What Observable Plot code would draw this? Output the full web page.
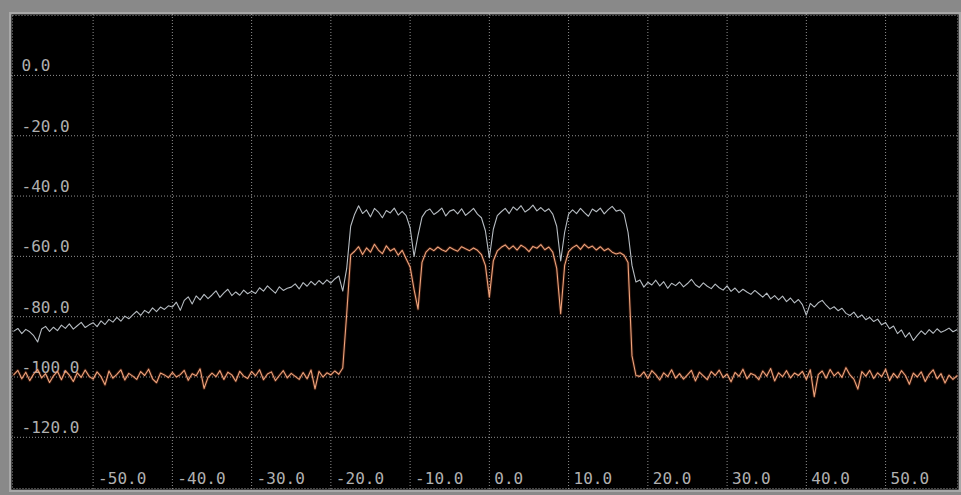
<!DOCTYPE html>
<html>
<head>
<meta charset="utf-8">
<script src="https://cdn.jsdelivr.net/npm/d3@7"></script>
<script src="https://cdn.jsdelivr.net/npm/@observablehq/plot@0.6"></script>
<style>
  html, body { margin: 0; padding: 0; background: #898989; }
  #chart svg { display: block; }
</style>
</head>
<body>
<div id="chart"></div>
<script>
// Frequency grid (MHz offset), one sample every 0.5
const freqStart = -60;
const freqEnd = 59;
const freqStep = 0.5;

// Tick positions and labels
const xTicks = [-50, -40, -30, -20, -10, 0, 10, 20, 30, 40, 50];
const xTickLabels = ["-50.0", "-40.0", "-30.0", "-20.0", "-10.0", "0.0", "10.0", "20.0", "30.0", "40.0", "50.0"];
const yTicks = [0, -20, -40, -60, -80, -100, -120];
const yTickLabels = ["0.0", "-20.0", "-40.0", "-60.0", "-80.0", "-100.0", "-120.0"];

// Max-hold trace (light grey), dB
const traceMax = [
  -84.8, -83.9, -85.6, -84.2, -85.0, -86.3, -88.4, -84.1, -83.2, -84.9,
  -83.5, -84.6, -82.8, -83.9, -82.4, -84.1, -83.0, -81.9, -83.6, -82.7,
  -82.0, -83.3, -81.4, -82.6, -80.9, -81.8, -80.2, -81.5, -79.8, -80.7,
  -79.4, -78.2, -79.6, -77.9, -78.8, -77.1, -78.3, -76.8, -77.6, -76.4,
  -76.8, -75.2, -77.9, -74.6, -73.4, -75.8, -73.1, -74.4, -72.6, -74.0,
  -72.8, -71.4, -73.6, -72.1, -70.9, -73.0, -71.8, -72.9, -71.2, -72.4,
  -71.6, -72.3, -70.4, -71.5, -69.8, -71.0, -72.2, -70.1, -71.3, -70.6,
  -70.2, -69.1, -70.8, -68.7, -69.9, -68.3, -69.5, -68.0, -69.2, -67.8,
  -68.9, -67.5, -66.5, -71.5, -64.0, -50.0, -46.0, -43.2, -45.8, -44.6,
  -46.9, -44.1, -45.3, -47.2, -44.8, -45.6, -44.0, -46.3, -45.1, -46.5,
  -50.5, -60.0, -53.0, -47.0, -45.0, -44.3, -46.1, -45.2, -44.0, -46.6,
  -45.0, -44.5, -45.9, -44.2, -46.4, -45.3, -44.1, -46.0, -47.2, -51.5,
  -60.5, -51.0, -46.5, -45.2, -44.1, -45.8, -43.6, -44.7, -43.2, -45.3,
  -44.4, -43.0, -44.9, -43.8, -45.1, -44.2, -46.0, -50.0, -61.5, -52.0,
  -46.0, -44.6, -45.8, -44.1, -45.5, -46.7, -44.3, -45.2, -44.0, -45.9,
  -44.5, -43.4, -45.0, -44.6, -46.0, -52.0, -63.0, -68.5, -67.8, -70.2,
  -68.6, -69.5, -67.9, -69.8, -68.4, -70.6, -68.9, -69.7, -68.5, -70.1,
  -69.0, -67.6, -69.4, -70.3, -68.8, -69.9, -70.7, -69.2, -70.4, -71.2,
  -69.8, -71.6, -70.5, -72.0, -70.9, -71.8, -72.6, -71.3, -72.4, -73.5,
  -72.2, -74.1, -73.0, -74.4, -73.2, -75.0, -73.8, -75.4, -74.3, -76.0,
  -79.5, -75.6, -76.8, -75.4, -74.6, -76.2, -77.5, -76.7, -78.0, -77.2,
  -78.9, -79.6, -78.5, -80.3, -79.4, -81.0, -80.2, -81.6, -80.8, -82.7,
  -81.9, -84.0, -83.1, -85.6, -84.4, -86.8, -85.3, -87.9, -86.2, -84.7,
  -85.9, -84.3, -85.5, -84.0, -85.2, -84.6, -83.8, -85.0, -84.3
];

// Live trace (orange), dB
const traceLive = [
  -99.2, -97.8, -100.6, -98.4, -101.2, -99.0, -97.5, -100.3, -98.9, -101.8,
  -99.6, -98.1, -100.9, -97.9, -99.4, -101.5, -98.6, -100.1, -97.7, -99.8,
  -100.7, -98.3, -99.9, -102.6, -98.0, -100.4, -99.1, -97.6, -101.0, -98.8,
  -99.7, -100.8, -98.2, -99.5, -97.4, -100.6, -101.9, -98.7, -99.3, -100.2,
  -98.5, -100.0, -99.2, -97.8, -101.1, -98.9, -99.6, -97.3, -103.8, -100.1,
  -98.7, -99.9, -97.9, -100.8, -98.4, -99.3, -101.4, -98.1, -99.7, -100.5,
  -98.2, -99.6, -97.6, -100.9, -99.0, -98.3, -101.2, -99.5, -97.9, -100.3,
  -98.8, -99.8, -100.8, -98.5, -100.6, -97.7, -103.9, -98.1, -100.0, -98.6,
  -99.3, -98.0, -99.1, -97.0, -79.0, -59.5, -58.3, -56.8, -59.4, -57.2,
  -58.6, -56.0, -57.9, -59.1, -56.5, -58.2, -57.4, -59.6, -58.0, -60.8,
  -63.5, -71.0, -77.5, -62.0, -58.6, -57.3, -58.1, -56.9, -57.8, -58.4,
  -57.0, -57.7, -58.3, -56.8, -57.5, -58.1, -57.2, -58.0, -59.4, -63.0,
  -73.5, -61.5, -58.2, -57.0, -56.2, -57.6, -56.5, -57.9, -56.3, -57.1,
  -58.4, -56.7, -57.3, -56.1, -57.8, -56.9, -58.6, -64.0, -79.0, -63.0,
  -58.4, -57.1, -56.3, -57.7, -56.0, -57.2, -56.6, -57.9, -56.8, -58.1,
  -57.4, -58.6, -59.2, -58.8, -59.6, -62.0, -93.0, -99.5, -99.8, -98.3,
  -100.5, -97.9, -99.2, -101.0, -98.6, -99.9, -97.6, -100.4, -98.9, -100.7,
  -99.3, -97.8, -101.3, -98.4, -99.6, -100.9, -98.2, -99.5, -97.7, -100.2,
  -99.0, -101.6, -98.5, -99.8, -97.4, -100.6, -98.8, -99.4, -100.9, -98.0,
  -99.7, -97.2, -101.3, -98.6, -99.9, -97.9, -100.3, -98.7, -99.5, -98.1,
  -100.8, -97.6, -106.5, -99.2, -98.0, -100.4, -97.5, -99.6, -98.4, -100.1,
  -96.9, -99.3, -100.7, -104.0, -98.2, -99.7, -97.8, -100.5, -98.6, -99.9,
  -97.4, -101.2, -98.8, -100.3, -97.9, -99.5, -102.4, -98.7, -100.0, -98.3,
  -101.5, -99.1, -97.6, -100.6, -98.9, -102.0, -99.4, -100.8, -99.6
];

const freqs = d3.range(freqStart, freqEnd + freqStep / 2, freqStep);
const maxData = freqs.map((f, i) => ({f, v: traceMax[i]}));
const liveData = freqs.map((f, i) => ({f, v: traceLive[i]}));
const xLabelData = xTicks.map((t, i) => ({t, label: xTickLabels[i]}));
const yLabelData = yTicks.map((t, i) => ({t, label: yTickLabels[i]}));

const gridStyle = {stroke: "#a8a8a8", strokeOpacity: 0.85, strokeWidth: 1, strokeDasharray: "1,2"};
const labelFont = {fontFamily: "'DejaVu Sans Mono', monospace", fontSize: 16, fill: "#b0b0b0"};

const chart = Plot.plot({
  width: 961,
  height: 495,
  marginLeft: 11,
  marginRight: 3,
  marginTop: 14,
  marginBottom: 6,
  x: {domain: [-60.3, 59.2], axis: null},
  y: {domain: [-137.3, 20.2], axis: null},
  style: {background: "#898989", overflow: "visible"},
  marks: [
    Plot.frame({stroke: "#a8a8a8", strokeWidth: 2, inset: -1.5}),
    Plot.frame({fill: "#000000"}),
    Plot.ruleX(xTicks, {x: d => d, ...gridStyle}),
    Plot.ruleY(yTicks, {y: d => d, ...gridStyle}),
    Plot.frame({...gridStyle, inset: 1}),
    Plot.text(yLabelData, {y: "t", text: "label", frameAnchor: "left", dx: 10, dy: -4, textAnchor: "start", lineAnchor: "bottom", ...labelFont}),
    Plot.text(xLabelData, {x: "t", text: "label", frameAnchor: "bottom", dx: 5, dy: -6, textAnchor: "start", lineAnchor: "bottom", ...labelFont}),
    Plot.line(maxData, {x: "f", y: "v", stroke: "#b6bcc2", strokeWidth: 1.1, curve: "linear"}),
    Plot.line(liveData, {x: "f", y: "v", stroke: "#c0502a", strokeWidth: 3, strokeOpacity: 0.25, curve: "linear"}),
    Plot.line(liveData, {x: "f", y: "v", stroke: "#eea47c", strokeWidth: 1.1, curve: "linear"})
  ]
});
document.getElementById("chart").appendChild(chart);
</script>
</body>
</html>
